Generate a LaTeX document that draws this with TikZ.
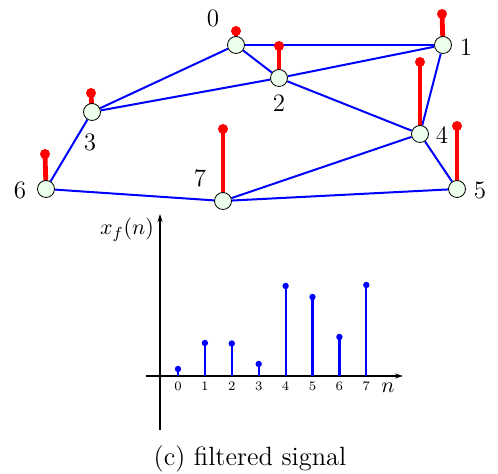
\documentclass[tikz,border=0pt]{standalone}
\usepackage{amsmath, amssymb}
\usepackage{tikz}
\usetikzlibrary{arrows.meta, backgrounds}

\tikzset{
  vertex/.style={circle, draw=black, fill=green!8, minimum size=8.5pt, inner sep=0pt, line width=0.4pt},
  graphedge/.style={blue, line width=1pt},
  redstem/.style={red, line width=2.4pt},
  reddot/.style={circle, fill=red, minimum size=5pt, inner sep=0pt},
  bluestem/.style={blue, line width=1.1pt},
  bluedot/.style={circle, fill=blue, minimum size=3.2pt, inner sep=0pt},
  vlabel/.style={font=\fontsize{12.5}{14}\selectfont},
  ticklabel/.style={font=\fontsize{6.5}{8}\selectfont},
}

\begin{document}
\begin{tikzpicture}[x=0.5pt, y=-0.5pt]
  \useasboundingbox (0,0) rectangle (498,474);

  % ----- Top: graph with the signal on its vertices -----
  \node[vertex] (v0) at (236,45) {};
  \node[vertex] (v1) at (443,45) {};
  \node[vertex] (v2) at (279,78) {};
  \node[vertex] (v3) at (92,112) {};
  \node[vertex] (v4) at (420,134) {};
  \node[vertex] (v5) at (457,189) {};
  \node[vertex] (v6) at (46,189) {};
  \node[vertex] (v7) at (223,201) {};

  % vertex numbers
  \node[vlabel] (l0) at (213,18) {0};
  \node[vlabel] (l1) at (466,47) {1};
  \node[vlabel] (l2) at (279,103) {2};
  \node[vlabel] (l3) at (90,142) {3};
  \node[vlabel] (l4) at (442,135) {4};
  \node[vlabel] (l5) at (480,190) {5};
  \node[vlabel] (l6) at (20,190) {6};
  \node[vlabel] (l7) at (200,178) {7};

  % signal values (tips of the red stems)
  \node[reddot] (s0) at (236,31) {};
  \node[reddot] (s1) at (442,14) {};
  \node[reddot] (s2) at (279,46) {};
  \node[reddot] (s3) at (91,93) {};
  \node[reddot] (s4) at (420,62) {};
  \node[reddot] (s5) at (457,126) {};
  \node[reddot] (s6) at (45,154) {};
  \node[reddot] (s7) at (223,129) {};

  \begin{scope}[on background layer]
    \draw[graphedge] (v0) -- (v1);
    \draw[graphedge] (v0) -- (v2);
    \draw[graphedge] (v0) -- (v3);
    \draw[graphedge] (v2) -- (v1);
    \draw[graphedge] (v2) -- (v3);
    \draw[graphedge] (v2) -- (v4);
    \draw[graphedge] (v1) -- (v4);
    \draw[graphedge] (v3) -- (v6);
    \draw[graphedge] (v6) -- (v7);
    \draw[graphedge] (v7) -- (v4);
    \draw[graphedge] (v7) -- (v5);
    \draw[graphedge] (v4) -- (v5);
    \foreach \i in {0,...,7}
      \draw[redstem] (v\i.center) -- (s\i.center);
  \end{scope}

  % ----- Bottom: stem plot of the filtered signal -----
  \coordinate (xstart) at (146,376);
  \coordinate (xend) at (403,376);
  \coordinate (ystart) at (160,430);
  \coordinate (yend) at (160,214);
  \draw[line width=0.6pt, -{Stealth[length=4pt, width=2.5pt]}] (xstart) -- (xend);
  \draw[line width=0.6pt, -{Stealth[length=4pt, width=2.5pt]}] (ystart) -- (yend);
  \node[font=\fontsize{11}{13}\selectfont] (ylab) at (127,230) {$x_f(n)$};
  \node[font=\fontsize{11}{13}\selectfont] (xlab) at (388,388) {$n$};

  \foreach \k/\h in {0/7, 1/33, 2/32.5, 3/12, 4/90, 5/79, 6/39, 7/91} {
    \coordinate (b\k) at (178+26.9*\k,376);
    \node[bluedot] (d\k) at (178+26.9*\k,376-\h) {};
    \draw[bluestem] (b\k) -- (d\k.center);
    \node[ticklabel] (t\k) at (178+26.9*\k,386) {\k};
  }

  \node[font=\fontsize{13.2}{15}\selectfont] (caption) at (250,459) {(c) filtered signal};
\end{tikzpicture}
\end{document}
